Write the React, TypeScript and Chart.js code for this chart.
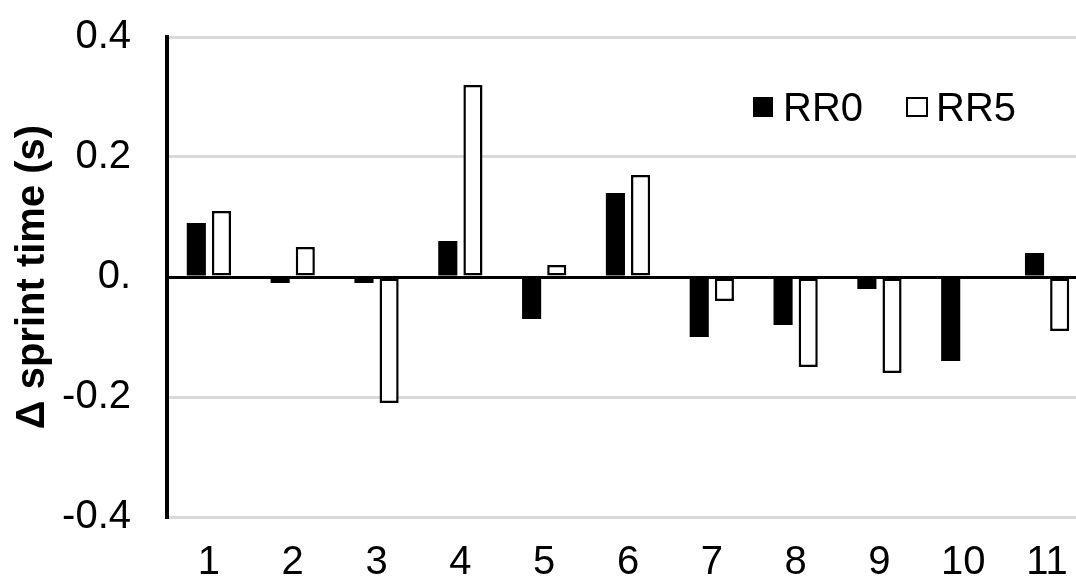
import React, { useEffect, useRef } from "react";
import { Chart, registerables } from "chart.js";

Chart.register(...registerables);

const categories = ["1", "2", "3", "4", "5", "6", "7", "8", "9", "10", "11"];
const rr0 = [0.09, -0.01, -0.01, 0.06, -0.07, 0.14, -0.1, -0.08, -0.02, -0.14, 0.04];
const rr5 = [0.11, 0.05, -0.21, 0.32, 0.02, 0.17, -0.04, -0.15, -0.16, 0, -0.09];
const yTicks = [-0.4, -0.2, 0, 0.2, 0.4];

const FONT = "'Liberation Sans', Arial, Helvetica, sans-serif";

export default function App() {
  const ref = useRef<HTMLCanvasElement | null>(null);

  useEffect(() => {
    if (!ref.current) return;
    const chart = new Chart(ref.current, {
      type: "bar",
      data: {
        labels: categories,
        datasets: [
          {
            label: "RR0",
            data: rr0,
            backgroundColor: "#000000",
            borderColor: "#000000",
            borderWidth: 0,
            categoryPercentage: 0.6,
            barPercentage: 0.76,
          },
          {
            label: "RR5",
            data: rr5,
            backgroundColor: "#ffffff",
            borderColor: "#000000",
            borderWidth: 2.5,
            borderSkipped: false,
            categoryPercentage: 0.6,
            barPercentage: 0.76,
          },
        ],
      },
      options: {
        animation: false,
        responsive: true,
        maintainAspectRatio: false,
        layout: { padding: { top: 37, right: 11, left: 0, bottom: 0 } },
        plugins: {
          legend: { display: false },
          tooltip: { enabled: false },
        },
        scales: {
          x: {
            grid: { display: false },
            border: { display: false },
            ticks: {
              color: "#000",
              font: { family: FONT, size: 40 },
              padding: 14,
              maxRotation: 0,
              autoSkip: false,
            },
            afterFit: (s: any) => {
              s.height = 63;
            },
          },
          y: {
            min: -0.4,
            max: 0.4,
            afterBuildTicks: (s: any) => {
              s.ticks = yTicks.map((v) => ({ value: v }));
            },
            grid: {
              drawTicks: true,
              tickLength: 31,
              tickColor: "rgba(0,0,0,0)",
              color: (ctx: any) =>
                Math.abs(ctx.tick?.value ?? 1) < 1e-9 ? "#000000" : "#d9d9d9",
              lineWidth: 3,
            },
            border: { display: true, color: "#000", width: 4 },
            ticks: {
              color: "#000",
              font: { family: FONT, size: 40 },
              padding: 5,
              callback: (v: any) => {
                const n = Number(v);
                if (Math.abs(n) < 1e-9) return "0.";
                return n.toFixed(1);
              },
            },
            title: {
              display: true,
              text: "Δ sprint time (s)",
              color: "#000",
              font: { family: FONT, size: 40, weight: "bold" },
              padding: { top: 9, bottom: 0 },
            },
            afterFit: (s: any) => {
              s.width = 167;
            },
          },
        },
      },
    });
    return () => chart.destroy();
  }, []);

  const legendText: React.CSSProperties = {
    position: "absolute",
    fontFamily: FONT,
    fontSize: 40,
    lineHeight: "40px",
    color: "#000",
    top: 87,
  };

  return (
    <div
      style={{
        position: "absolute",
        left: 0,
        top: 0,
        width: 1076,
        height: 580,
        overflow: "hidden",
        background: "#fff",
      }}
    >
      <div style={{ position: "absolute", left: 0, top: 0, width: 1100, height: 580 }}>
        <canvas ref={ref} />
      </div>
      <div
        style={{
          position: "absolute",
          left: 753,
          top: 97,
          width: 20,
          height: 20,
          background: "#000",
        }}
      />
      <div style={{ ...legendText, left: 783 }}>RR0</div>
      <div
        style={{
          position: "absolute",
          left: 906,
          top: 97,
          width: 22,
          height: 20,
          boxSizing: "border-box",
          border: "2.5px solid #000",
          background: "#fff",
        }}
      />
      <div style={{ ...legendText, left: 936 }}>RR5</div>
    </div>
  );
}
